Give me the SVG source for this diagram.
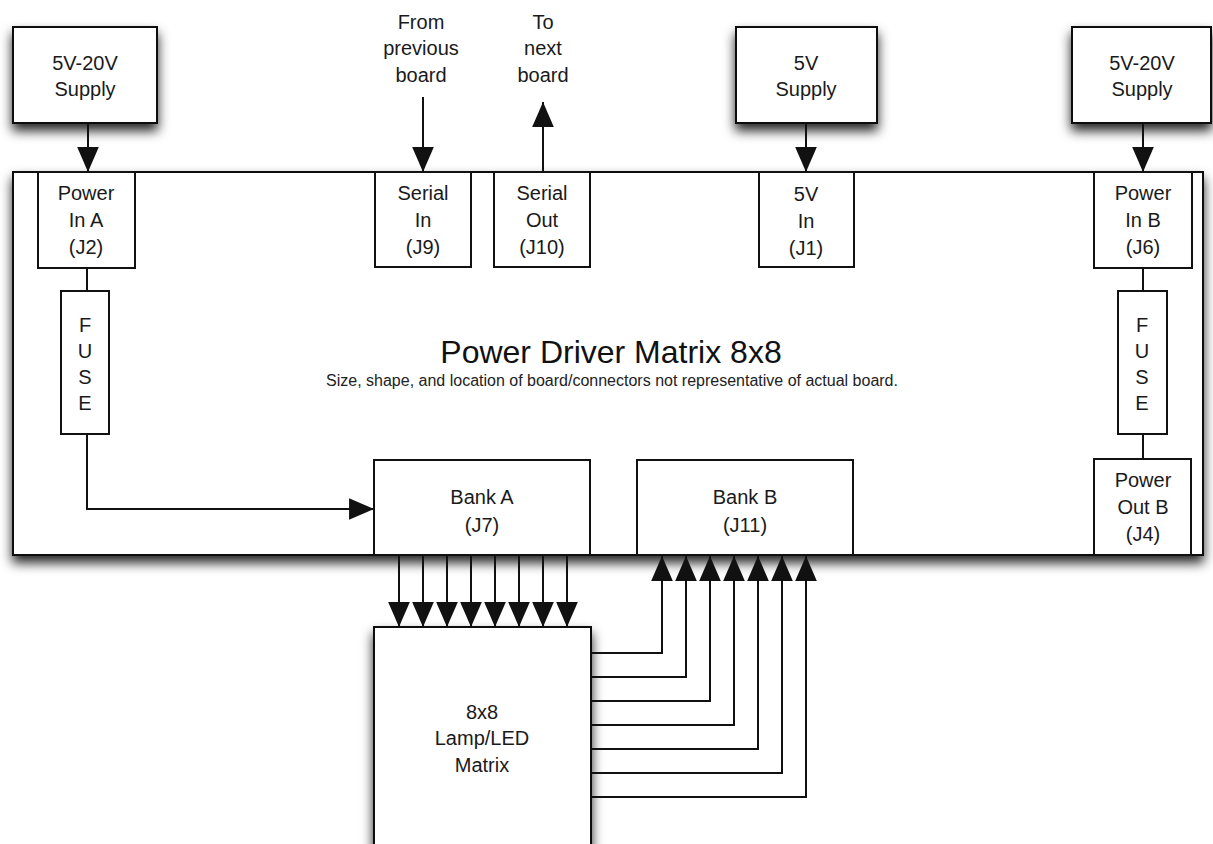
<svg xmlns="http://www.w3.org/2000/svg" width="1213" height="844" viewBox="0 0 1213 844">
<style>
.box{fill:#fff;stroke:#111;stroke-width:2}
.lbl{font-family:"Liberation Sans",Arial,Helvetica,sans-serif;font-size:20px;fill:#1a1a1a;text-anchor:middle}
.ttl{font-family:"Liberation Sans",Arial,Helvetica,sans-serif;font-size:32px;fill:#111;text-anchor:middle}
.sub{font-family:"Liberation Sans",Arial,Helvetica,sans-serif;font-size:16px;fill:#222;text-anchor:middle}
.ln{fill:none;stroke:#111;stroke-width:2}
.arr{fill:none;stroke:#111;stroke-width:2;marker-end:url(#ah)}
</style>
<defs>
<filter id="sh" x="-20%" y="-20%" width="140%" height="150%">
<feDropShadow dx="0" dy="7" stdDeviation="6" flood-color="#000" flood-opacity="0.85"/>
</filter>
<marker id="ah" markerUnits="userSpaceOnUse" markerWidth="26" markerHeight="22" refX="23" refY="10" orient="auto" viewBox="0 0 24 20">
<path d="M0,0 L23,10 L0,20 Z" fill="#111"/>
</marker>
</defs>
<rect width="1213" height="844" fill="#fff"/>

<g id="board">
<rect class="box" x="13" y="172" width="1190" height="383" filter="url(#sh)"/>
<text class="ttl" x="611" y="363">Power Driver Matrix 8x8</text>
<text class="sub" x="612" y="386">Size, shape, and location of board/connectors not representative of actual board.</text>
</g>

<g id="supplyA">
<rect class="box" x="13" y="27" width="144" height="96" filter="url(#sh)"/>
<text class="lbl" x="85" y="70">5V-20V</text>
<text class="lbl" x="85" y="96">Supply</text>
</g>
<g id="supply5V">
<rect class="box" x="736" y="27" width="141" height="96" filter="url(#sh)"/>
<text class="lbl" x="806" y="70">5V</text>
<text class="lbl" x="806" y="96">Supply</text>
</g>
<g id="supplyB">
<rect class="box" x="1072" y="27" width="139" height="96" filter="url(#sh)"/>
<text class="lbl" x="1142" y="70">5V-20V</text>
<text class="lbl" x="1142" y="96">Supply</text>
</g>

<g id="labelFrom">
<text class="lbl" x="421" y="29">From</text>
<text class="lbl" x="421" y="55">previous</text>
<text class="lbl" x="421" y="82">board</text>
</g>
<g id="labelTo">
<text class="lbl" x="543" y="29">To</text>
<text class="lbl" x="543" y="55">next</text>
<text class="lbl" x="543" y="82">board</text>
</g>

<g id="powerInA">
<rect class="box" x="38" y="172" width="97" height="96"/>
<text class="lbl" x="86" y="200">Power</text>
<text class="lbl" x="86" y="227">In A</text>
<text class="lbl" x="86" y="254">(J2)</text>
</g>
<g id="serialIn">
<rect class="box" x="375" y="172" width="96" height="95"/>
<text class="lbl" x="423" y="200">Serial</text>
<text class="lbl" x="423" y="227">In</text>
<text class="lbl" x="423" y="254">(J9)</text>
</g>
<g id="serialOut">
<rect class="box" x="494" y="172" width="96" height="95"/>
<text class="lbl" x="542" y="200">Serial</text>
<text class="lbl" x="542" y="227">Out</text>
<text class="lbl" x="542" y="254">(J10)</text>
</g>
<g id="in5V">
<rect class="box" x="759" y="172" width="95" height="95"/>
<text class="lbl" x="806" y="201">5V</text>
<text class="lbl" x="806" y="228">In</text>
<text class="lbl" x="806" y="255">(J1)</text>
</g>
<g id="powerInB">
<rect class="box" x="1094" y="172" width="98" height="96"/>
<text class="lbl" x="1143" y="200">Power</text>
<text class="lbl" x="1143" y="227">In B</text>
<text class="lbl" x="1143" y="254">(J6)</text>
</g>

<g id="fuseA">
<rect class="box" x="61" y="291" width="48" height="143"/>
<text class="lbl" x="85" y="332">F</text>
<text class="lbl" x="85" y="358">U</text>
<text class="lbl" x="85" y="384">S</text>
<text class="lbl" x="85" y="410">E</text>
</g>
<g id="fuseB">
<rect class="box" x="1118" y="291" width="49" height="143"/>
<text class="lbl" x="1142" y="332">F</text>
<text class="lbl" x="1142" y="358">U</text>
<text class="lbl" x="1142" y="384">S</text>
<text class="lbl" x="1142" y="410">E</text>
</g>

<g id="bankA">
<rect class="box" x="374" y="460" width="216" height="95"/>
<text class="lbl" x="482" y="504">Bank A</text>
<text class="lbl" x="482" y="532">(J7)</text>
</g>
<g id="bankB">
<rect class="box" x="637" y="460" width="216" height="95"/>
<text class="lbl" x="745" y="504">Bank B</text>
<text class="lbl" x="745" y="532">(J11)</text>
</g>
<g id="powerOutB">
<rect class="box" x="1094" y="459" width="97" height="96"/>
<text class="lbl" x="1143" y="487">Power</text>
<text class="lbl" x="1143" y="514">Out B</text>
<text class="lbl" x="1143" y="541">(J4)</text>
</g>

<g id="matrix">
<rect class="box" x="374" y="627" width="217" height="230" filter="url(#sh)"/>
<text class="lbl" x="482" y="719">8x8</text>
<text class="lbl" x="482" y="745">Lamp/LED</text>
<text class="lbl" x="482" y="772">Matrix</text>
</g>

<g id="connectors">
<path class="arr" d="M88,123 V172"/>
<path class="arr" d="M806,123 V172"/>
<path class="arr" d="M1143,123 V172"/>
<path class="arr" d="M423,97 V172"/>
<path class="arr" d="M543,172 V102"/>
<path class="ln" d="M87,268 V291"/>
<path class="ln" d="M1143,268 V291"/>
<path class="ln" d="M1143,434 V459"/>
<path class="arr" d="M87,434 V509 H374"/>
<path class="arr" d="M399,555 V627"/>
<path class="arr" d="M423,555 V627"/>
<path class="arr" d="M447,555 V627"/>
<path class="arr" d="M471,555 V627"/>
<path class="arr" d="M495,555 V627"/>
<path class="arr" d="M519,555 V627"/>
<path class="arr" d="M543,555 V627"/>
<path class="arr" d="M567,555 V627"/>
<path class="arr" d="M591,653 H662 V556"/>
<path class="arr" d="M591,677 H686 V556"/>
<path class="arr" d="M591,701 H710 V556"/>
<path class="arr" d="M591,725 H734 V556"/>
<path class="arr" d="M591,749 H758 V556"/>
<path class="arr" d="M591,773 H782 V556"/>
<path class="arr" d="M591,797 H806 V556"/>
</g>
</svg>
